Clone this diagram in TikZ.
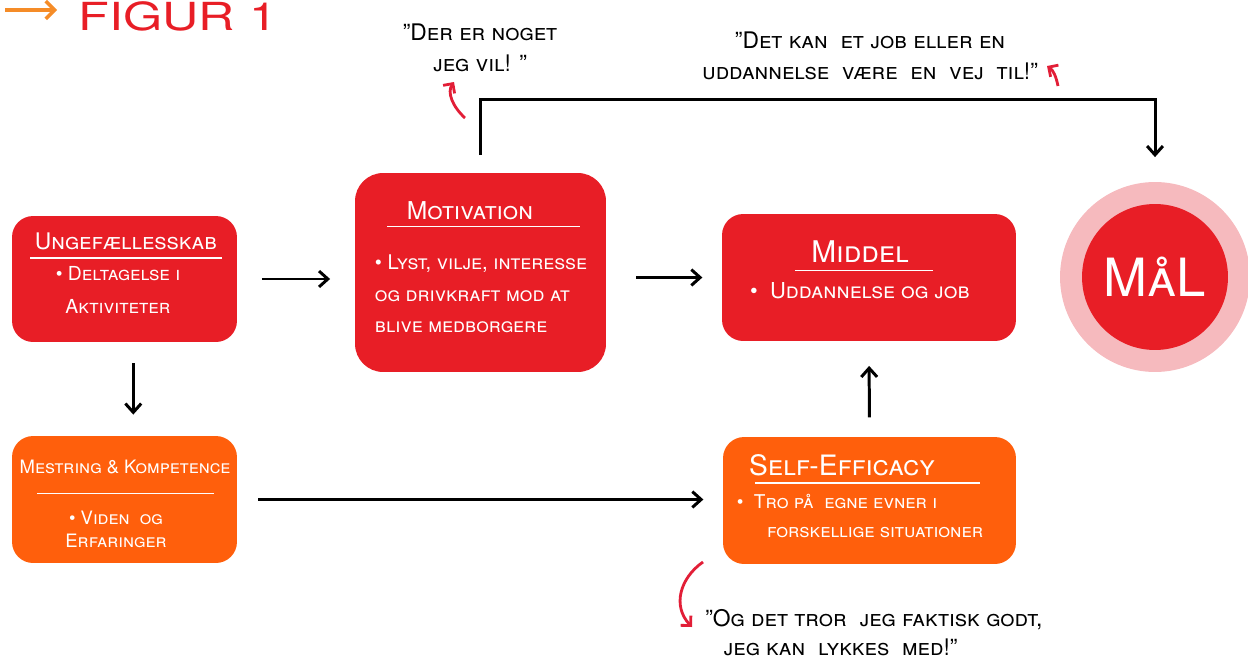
\documentclass[tikz,border=0pt]{standalone}
\usepackage{fontspec}
\setmainfont{TeX Gyre Heros}
\usepackage{tikz}
\usetikzlibrary{arrows.meta,positioning}

\definecolor{boxred}{RGB}{232,30,38}
\definecolor{boxorange}{RGB}{255,95,12}
\definecolor{ringpink}{RGB}{246,186,190}
\definecolor{notered}{RGB}{226,30,55}
\definecolor{figorange}{RGB}{245,140,40}

\tikzset{
  redbox/.style={rectangle, rounded corners=12pt, fill=boxred, inner sep=0pt},
  orangebox/.style={redbox, fill=boxorange},
  boxtitle/.style={text=white, inner sep=0pt},
  boxtext/.style={text=white, inner sep=0pt},
  titlerule/.style={white, line width=0.8pt},
  quote/.style={font=\fontsize{13}{18}\selectfont\scshape, inner sep=0pt},
  flow/.style={-{Straight Barb[length=5pt,width=9pt]}, line width=1.7pt},
  remark/.style={notered, line width=1.6pt, -{Straight Barb[length=4pt,width=8pt]}},
}

\begin{document}
\begin{tikzpicture}[x=0.02cm, y=-0.02cm]
  \useasboundingbox (0,0) rectangle (1248,666);

  % figure label
  \node[text=boxred, font=\fontsize{22}{24}\selectfont, anchor=base, inner sep=0pt] (figT) at (178,31) {\scalebox{1.3}[1]{FIGUR 1}};
  \coordinate (figtail) at (5,10);
  \coordinate (fighead) at (57,10);
  \draw[figorange, line width=2pt, -{Straight Barb[length=5pt,width=10pt]}] (figtail) -- (fighead);

  % boxes
  \node[redbox, minimum width=4.5cm, minimum height=2.52cm] (ung) at (124.5,279) {};
  \node[orangebox, minimum width=4.5cm, minimum height=2.54cm] (mes) at (124.5,499.5) {};
  \node[redbox, rounded corners=16pt, minimum width=5.02cm, minimum height=3.98cm] (mot) at (480.5,272.5) {};
  \node[redbox, minimum width=5.88cm, minimum height=2.54cm] (mid) at (869,277.5) {};
  \node[orangebox, minimum width=5.86cm, minimum height=2.54cm] (sef) at (869.5,500.5) {};
  \node[circle, fill=ringpink, minimum size=3.8cm, inner sep=0pt] (malring) at (1155,277) {};
  \node[circle, fill=boxred, minimum size=2.92cm, inner sep=0pt, text=white,
        font=\fontsize{30}{32}\selectfont\scshape] (mal) at (1155,277) {MåL};

  % titles
  \node[boxtitle, font=\fontsize{13}{15}\selectfont\scshape] (ungT) at (126,241) {Ungefællesskab};
  \node[boxtitle, font=\fontsize{10.5}{12}\selectfont\scshape] (mesT) at (125,467) {Mestring \& Kompetence};
  \node[boxtitle, font=\fontsize{14}{16}\selectfont\scshape] (motT) at (470,211) {Motivation};
  \node[boxtitle, font=\fontsize{17}{19}\selectfont\scshape] (midT) at (860,252) {Middel};
  \node[boxtitle, font=\fontsize{16}{18}\selectfont\scshape] (sefT) at (842,465) {Self-Efficacy};

  \draw[titlerule] (ungT.south) ++(-96,8) -- ++(192,0);
  \draw[titlerule] (mesT.south) ++(-88,19) -- ++(177,0);
  \draw[titlerule] (motT.south) ++(13,6) -- ++(-96,0) -- ++(193,0);
  \draw[titlerule] (midT.south) ++(-65,7) -- ++(138,0);
  \draw[titlerule] (sefT.south) ++(-87,7) -- ++(225,0);

  % bullet texts
  \node[boxtext, align=center, font=\fontsize{11}{18.5}\selectfont\scshape] (ungB) at (118,290) {• Deltagelse i\\Aktiviteter};
  \node[boxtext, align=center, font=\fontsize{10.5}{13}\selectfont\scshape] (mesB) at (116,529) {• Viden\ \ og\\Erfaringer};
  \node[boxtext, align=left, font=\fontsize{11.5}{18}\selectfont\scshape] (motB) at (481,294) {• Lyst, vilje, interesse\\og drivkraft mod at\\blive medborgere};
  \node[boxtext, font=\fontsize{12.5}{14}\selectfont\scshape] (midB) at (860,291) {•\ \ Uddannelse og job};
  \node[boxtext, align=left, font=\fontsize{10.8}{16}\selectfont\scshape] (sefB) at (860,516) {•\ \ Tro på\ \ egne evner i\\\hspace*{1.6em}forskellige situationer};

  % quotes
  \node[quote, align=center] (q1) at (480,48) {"Der er noget\\jeg vil! "};
  \node[quote, align=center] (q2) at (870,56) {"Det kan\ \ et job eller en\\uddannelse\ \ være\ \ en\ \ vej\ \ til!"};
  \node[quote, align=left, anchor=west, font=\fontsize{13}{16.5}\selectfont\scshape] (q3) at (705,633) {"Og det tror\ \ jeg faktisk godt,\\\hspace*{0.8em}jeg kan\ \ lykkes\ \ med!"};

  % connectors
  \draw[flow, shorten <=14pt, shorten >=14pt] (ung.east) -- (ung.east -| mot.west);
  \draw[flow, shorten <=17pt, shorten >=11pt] (mot.east |- mid.west) -- (mid.west);
  \draw[flow, shorten <=12pt, shorten >=12pt] ([xshift=5pt]ung.south) -- ([xshift=5pt]mes.north);
  \draw[flow, shorten <=12pt, shorten >=11pt] (mes.east) -- (mes.east -| sef.west);
  \draw[flow, shorten <=11pt, shorten >=14pt] (sef.north) -- (mid.south);
  \draw[flow, shorten <=10pt, shorten >=14pt] (mot.north) -- ++(0,-73) -| (malring.north);

  % remarks
  \coordinate (r1tail) at (465,118);
  \coordinate (r1head) at (454,82);
  \draw[remark] (r1tail) .. controls (452,106) and (447,92) .. (r1head);
  \coordinate (r2tail) at (1058,86);
  \coordinate (r2head) at (1047,66);
  \draw[remark] (r2tail) .. controls (1056,76) and (1053,70) .. (r2head);
  \coordinate (r3tail) at (703,562);
  \coordinate (r3head) at (692,627);
  \draw[remark] (r3tail) .. controls (680,578) and (672,606) .. (r3head);
\end{tikzpicture}
\end{document}
